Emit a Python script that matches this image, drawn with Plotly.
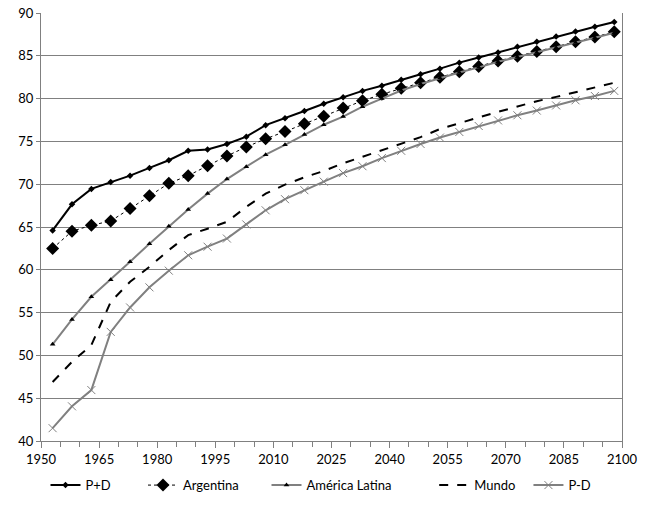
import plotly.graph_objects as go

years = [1953, 1958, 1963, 1968, 1973, 1978, 1983, 1988, 1993, 1998,
         2003, 2008, 2013, 2018, 2023, 2028, 2033, 2038, 2043, 2048,
         2053, 2058, 2063, 2068, 2073, 2078, 2083, 2088, 2093, 2098]

p_mas_d = [64.6, 67.65, 69.45, 70.25, 71.0, 71.9, 72.8, 73.9, 74.05, 74.7,
           75.55, 76.9, 77.7, 78.55, 79.4, 80.15, 80.9, 81.5, 82.2, 82.85,
           83.5, 84.2, 84.8, 85.4, 86.05, 86.65, 87.25, 87.85, 88.4, 88.95]

argentina = [62.5, 64.5, 65.2, 65.7, 67.15, 68.65, 70.1, 71.0, 72.15, 73.3,
             74.35, 75.3, 76.15, 77.05, 77.95, 78.9, 79.75, 80.5, 81.2, 81.85,
             82.5, 83.15, 83.75, 84.4, 84.95, 85.5, 86.05, 86.65, 87.2, 87.8]

america_latina = [51.3, 54.2, 56.85, 58.85, 60.95, 63.05, 65.1, 67.05, 68.9, 70.6,
                  72.05, 73.45, 74.6, 75.8, 76.95, 77.9, 79.05, 80.0, 80.95, 81.7,
                  82.4, 83.05, 83.65, 84.3, 84.85, 85.4, 85.95, 86.55, 87.1, 87.7]

mundo = [46.9, 49.25, 51.2, 56.25, 58.6, 60.35, 62.3, 64.05, 64.8, 65.6,
         67.35, 68.9, 69.95, 70.8, 71.55, 72.45, 73.2, 73.95, 74.7, 75.5,
         76.45, 77.15, 77.8, 78.45, 79.1, 79.7, 80.2, 80.75, 81.25, 81.85]

p_menos_d = [41.5, 44.05, 45.95, 52.75, 55.6, 57.95, 59.9, 61.7, 62.7, 63.65,
             65.3, 66.95, 68.25, 69.3, 70.3, 71.3, 72.1, 73.05, 73.9, 74.7,
             75.45, 76.1, 76.8, 77.45, 78.05, 78.6, 79.2, 79.8, 80.3, 80.9]

x_ticks = [1950, 1965, 1980, 1995, 2010, 2025, 2040, 2055, 2070, 2085, 2100]
y_ticks = [40, 45, 50, 55, 60, 65, 70, 75, 80, 85, 90]

FONT = "Lato, Liberation Sans, sans-serif"
GRAY = "#808080"

# legend anchor positions (container fraction)
legend_x = [0.07, 0.22, 0.41, 0.668, 0.813]

fig = go.Figure()
fig.add_trace(go.Scatter(x=years, y=p_mas_d, name="P+D", mode="lines+markers",
                         line=dict(color="black", width=2),
                         marker=dict(symbol="diamond", size=5, color="black"),
                         legend="legend"))
fig.add_trace(go.Scatter(x=years, y=argentina, name="Argentina", mode="lines+markers",
                         line=dict(color="black", width=1, dash="dot"),
                         marker=dict(symbol="diamond", size=10, color="black"),
                         legend="legend2"))
fig.add_trace(go.Scatter(x=years, y=america_latina, name="América Latina", mode="lines+markers",
                         line=dict(color=GRAY, width=2),
                         marker=dict(symbol="triangle-up", size=5, color="black"),
                         legend="legend3"))
fig.add_trace(go.Scatter(x=years, y=mundo, name="Mundo", mode="lines",
                         line=dict(color="black", width=2, dash="dash"),
                         legend="legend4"))
fig.add_trace(go.Scatter(x=years, y=p_menos_d, name="P-D", mode="lines+markers",
                         line=dict(color=GRAY, width=2),
                         marker=dict(symbol="x-thin", size=8, color=GRAY,
                                     line=dict(color=GRAY, width=1)),
                         legend="legend5"))

leg_common = dict(orientation="h", xref="container", yref="container",
                  y=0.045, yanchor="middle", xanchor="left",
                  font=dict(family=FONT, size=13, color="black"),
                  itemwidth=30, bgcolor="rgba(0,0,0,0)")
layout_legends = {}
for i, lx in enumerate(legend_x):
    key = "legend" if i == 0 else f"legend{i+1}"
    layout_legends[key] = dict(leg_common, x=lx)

fig.update_layout(
    width=650, height=508,
    margin=dict(l=41, r=28, t=13, b=67),
    paper_bgcolor="white", plot_bgcolor="white",
    font=dict(family=FONT, size=13, color="black"),
    showlegend=True,
    **layout_legends,
)
fig.update_xaxes(range=[1950, 2100], tickvals=x_ticks, ticktext=[str(v) for v in x_ticks],
                 automargin=False,
                 showgrid=False, zeroline=False, showline=True, linecolor=GRAY, linewidth=1,
                 mirror=False, ticks="outside", ticklen=6, tickcolor=GRAY,
                 minor=dict(dtick=5, tick0=1950, ticks="outside", ticklen=5, tickcolor=GRAY,
                            showgrid=False))
fig.update_yaxes(range=[40, 90], tickvals=y_ticks, showgrid=True, gridcolor=GRAY, gridwidth=1,
                 automargin=False,
                 zeroline=False, showline=True, linecolor=GRAY, linewidth=1, mirror=True,
                 ticks="outside", ticklen=4, tickcolor=GRAY)

fig.write_html("out.html", config={"displayModeBar": False},
               post_script="document.body.style.margin='0';")
